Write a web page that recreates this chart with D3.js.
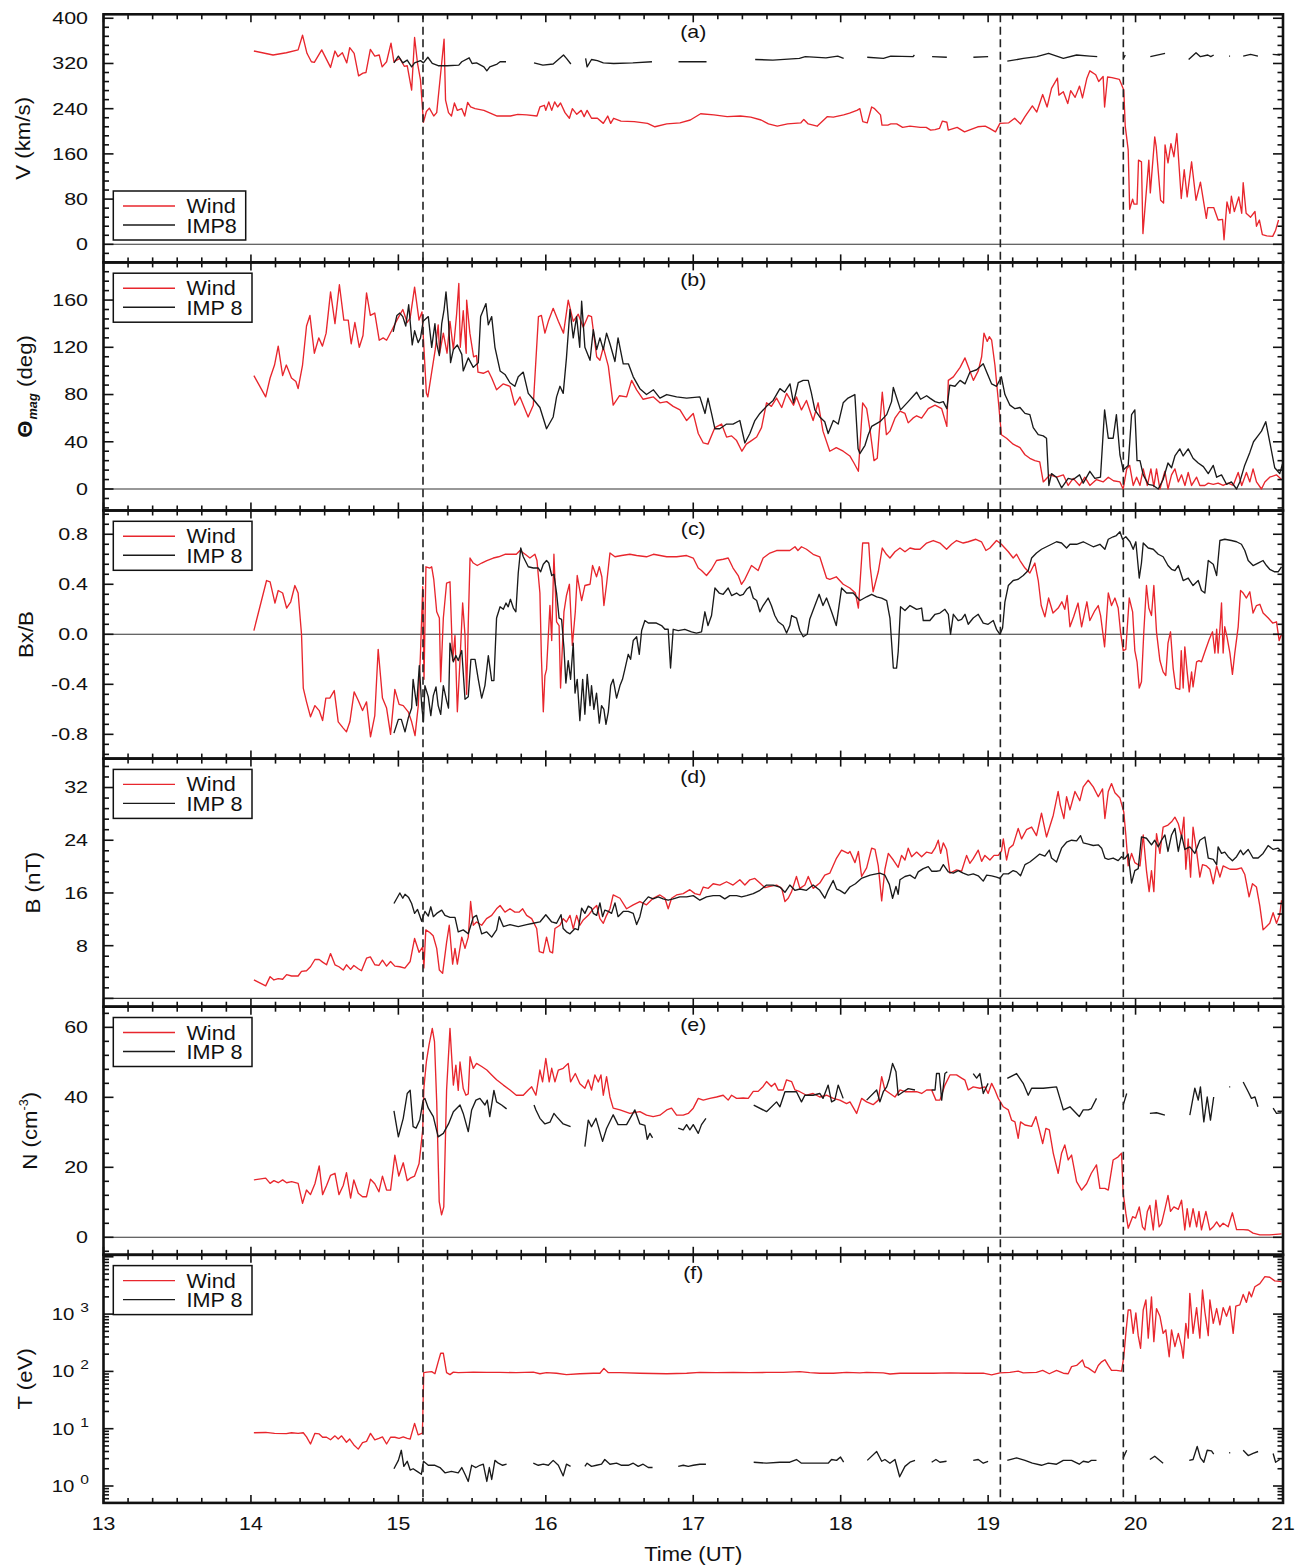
<!DOCTYPE html>
<html>
<head>
<meta charset="utf-8">
<script src="https://cdn.jsdelivr.net/npm/d3@7"></script>
<style>
  body { margin: 0; background: #fff; }
  svg { display: block; }
</style>
</head>
<body>
<svg id="chart" width="1305" height="1566"></svg>
<script>
// ---------------------------------------------------------------
// Solar-wind parameters at Wind and IMP 8, 13-21 UT.
// Each series is a list of [hour (UT), value]; null marks a data gap.
// ---------------------------------------------------------------

const hourTicks = [13, 14, 15, 16, 17, 18, 19, 20, 21];
const eventTimes = [15.167, 19.083, 19.917];

// (a) bulk speed, km/s
const windV = [
[14.02,342],[14.15,335],[14.24,339],[14.32,344],[14.35,370],[14.38,338],[14.41,323],[14.43,322],[14.48,344],[14.54,313],[14.57,342],[14.59,332],[14.62,339],[14.65,321],[14.67,348],[14.70,338],[14.73,298],[14.76,303],[14.78,304],[14.81,345],[14.84,333],[14.87,335],[14.89,314],[14.92,323],[14.95,356],[14.97,323],[15.01,329],[15.04,315],[15.06,316],[15.09,273],[15.11,366],[15.13,320],[15.15,291],[15.17,216],[15.19,235],[15.21,241],[15.24,227],[15.26,233],[15.28,285],[15.31,363],[15.32,255],[15.34,233],[15.36,227],[15.38,250],[15.40,237],[15.43,240],[15.45,227],[15.47,251],[15.49,243],[15.52,240],[15.58,237],[15.67,227],[15.76,227],[15.81,230],[15.87,229],[15.94,227],[15.96,243],[15.99,246],[16.00,237],[16.02,252],[16.04,237],[16.06,252],[16.08,243],[16.10,250],[16.13,233],[16.16,223],[16.18,240],[16.21,230],[16.24,237],[16.26,226],[16.28,237],[16.31,223],[16.35,223],[16.39,214],[16.42,227],[16.44,214],[16.46,223],[16.51,218],[16.60,217],[16.69,214],[16.74,208],[16.82,213],[16.91,215],[16.98,220],[17.05,231],[17.14,229],[17.23,226],[17.32,227],[17.39,225],[17.46,220],[17.51,213],[17.57,209],[17.64,213],[17.73,215],[17.75,221],[17.78,213],[17.84,209],[17.91,226],[17.95,225],[18.02,229],[18.06,232],[18.11,237],[18.13,240],[18.15,217],[18.18,215],[18.21,243],[18.23,240],[18.27,229],[18.28,211],[18.32,211],[18.34,213],[18.38,213],[18.42,207],[18.47,209],[18.54,207],[18.58,207],[18.61,202],[18.64,203],[18.67,205],[18.69,218],[18.72,216],[18.73,202],[18.79,207],[18.84,199],[18.88,203],[18.93,208],[18.98,209],[19.01,205],[19.05,199],[19.08,214],[19.14,215],[19.18,223],[19.22,213],[19.25,226],[19.30,245],[19.33,234],[19.37,265],[19.40,243],[19.43,276],[19.47,294],[19.48,264],[19.51,270],[19.54,249],[19.56,272],[19.59,260],[19.62,280],[19.64,259],[19.67,294],[19.69,307],[19.73,300],[19.75,288],[19.78,297],[19.79,243],[19.81,296],[19.84,295],[19.89,292],[19.92,273],[19.93,209],[19.95,167],[19.96,62],[19.98,80],[19.99,71],[20.01,71],[20.02,149],[20.04,146],[20.05,19],[20.09,149],[20.10,91],[20.13,190],[20.14,173],[20.17,78],[20.19,73],[20.20,176],[20.22,144],[20.24,178],[20.26,155],[20.28,196],[20.31,81],[20.33,132],[20.35,84],[20.38,146],[20.41,78],[20.44,110],[20.48,46],[20.49,65],[20.53,65],[20.56,43],[20.59,44],[20.60,8],[20.62,75],[20.64,55],[20.65,85],[20.67,58],[20.70,84],[20.72,55],[20.73,109],[20.75,55],[20.78,48],[20.81,58],[20.82,32],[20.84,43],[20.86,17],[20.89,15],[20.93,14],[20.95,25],[20.97,43]
];
const imp8V = [
[14.97,321],[15.00,333],[15.03,321],[15.06,326],[15.09,314],[15.11,321],[15.15,325],[15.17,321],[15.20,331],[15.23,320],[15.27,316],[15.33,316],[15.41,317],[15.43,323],[15.48,330],[15.50,320],[15.53,321],[15.58,314],[15.60,307],[15.62,314],[15.67,319],[15.69,323],[15.73,323],null,
[15.92,321],[15.98,317],[16.05,319],[16.12,335],[16.14,329],[16.17,319],null,
[16.27,329],[16.28,314],[16.31,327],[16.35,325],[16.39,321],[16.46,320],[16.59,321],[16.72,323],null,
[16.90,323],[17.09,323],null,
[17.42,327],[17.54,326],[17.72,329],[17.76,332],[17.90,330],[17.98,333],[18.02,329],null,
[18.18,331],[18.29,329],[18.34,333],[18.49,332],[18.50,335],null,
[18.62,332],[18.72,331],null,
[18.90,331],[19.00,332],null,
[19.13,324],[19.24,329],[19.33,332],[19.41,338],[19.51,329],[19.60,335],[19.69,333],[19.74,332],null,
[19.92,330],[19.93,335],null,
[20.10,332],[20.20,338],null,
[20.36,327],[20.41,339],[20.44,332],[20.49,335],[20.51,332],[20.53,335],null,
[20.634,333],[20.641,333],null,
[20.73,333],[20.78,336],[20.83,333],null,
[20.93,336],[20.98,335]
];

// (b) field angle, deg
const windTheta = [
[14.02,96],[14.10,78],[14.13,94],[14.16,105],[14.185,121],[14.215,96],[14.24,105],[14.275,94],[14.305,91],[14.32,85],[14.35,105],[14.377,138],[14.40,147],[14.43,115],[14.46,128],[14.485,121],[14.51,132],[14.54,167],[14.57,140],[14.60,173],[14.63,143],[14.66,143],[14.68,123],[14.705,141],[14.735,120],[14.76,130],[14.784,166],[14.81,147],[14.84,149],[14.87,126],[14.897,128],[14.92,126],[14.954,134],[14.99,143],[15.03,152],[15.06,141],[15.08,145],[15.11,171],[15.14,143],[15.16,150],[15.19,81],[15.20,78],[15.226,99],[15.25,118],[15.27,139],[15.28,115],[15.305,132],[15.33,115],[15.35,142],[15.373,118],[15.395,148],[15.41,174],[15.42,120],[15.44,151],[15.46,115],[15.463,160],[15.485,132],[15.51,112],[15.53,113],[15.54,99],[15.576,98],[15.61,100],[15.633,94],[15.666,84],[15.71,89],[15.757,87],[15.79,71],[15.825,78],[15.88,61],[15.915,71],[15.95,146],[15.97,147],[15.994,132],[16.017,142],[16.05,153],[16.085,142],[16.12,132],[16.152,160],[16.186,142],[16.22,148],[16.254,137],[16.288,147],[16.31,146],[16.345,112],[16.367,109],[16.39,120],[16.424,104],[16.457,71],[16.50,79],[16.548,78],[16.582,92],[16.616,84],[16.66,76],[16.73,78],[16.774,73],[16.82,74],[16.864,70],[16.91,67],[16.955,58],[17.0,64],[17.034,47],[17.068,39],[17.10,38],[17.147,52],[17.192,55],[17.226,44],[17.26,45],[17.294,41],[17.33,32],[17.36,38],[17.395,41],[17.43,44],[17.463,52],[17.497,73],[17.53,70],[17.565,77],[17.60,69],[17.633,81],[17.68,71],[17.70,78],[17.734,67],[17.768,75],[17.813,58],[17.847,73],[17.88,49],[17.926,32],[17.97,35],[18.017,32],[18.062,28],[18.09,22],[18.12,15],[18.149,73],[18.176,68],[18.20,49],[18.226,24],[18.248,26],[18.282,82],[18.31,46],[18.334,49],[18.368,60],[18.402,66],[18.436,64],[18.458,56],[18.49,60],[18.515,62],[18.549,60],[18.594,68],[18.64,71],[18.685,68],[18.72,53],[18.73,92],[18.764,95],[18.81,103],[18.843,111],[18.87,102],[18.90,92],[18.933,100],[18.956,112],[18.972,132],[18.994,125],[19.008,129],[19.024,126],[19.046,105],[19.069,75],[19.09,46],[19.125,43],[19.17,38],[19.216,35],[19.25,29],[19.283,26],[19.317,24],[19.35,23],[19.374,6],[19.42,12],[19.464,10],[19.51,12],[19.543,3],[19.577,9],[19.62,3],[19.656,10],[19.69,3],[19.735,8],[19.78,6],[19.815,10],[19.85,7],[19.894,6],[19.916,0],[19.94,17],[19.96,20],[19.984,3],[20.007,10],[20.03,3],[20.052,17],[20.08,3],[20.104,17],[20.124,2],[20.142,17],[20.165,0],[20.199,15],[20.22,0],[20.244,12],[20.267,17],[20.29,6],[20.312,12],[20.335,3],[20.357,14],[20.38,3],[20.414,10],[20.436,3],[20.47,3],[20.493,5],[20.527,4],[20.56,5],[20.594,3],[20.628,5],[20.662,3],[20.696,14],[20.72,3],[20.752,14],[20.775,6],[20.797,17],[20.82,6],[20.854,0],[20.877,6],[20.91,10],[20.955,12],[20.99,8]
];
const imp8Theta = [
[14.965,133],[14.99,147],[15.01,149],[15.03,146],[15.05,138],[15.07,156],[15.094,122],[15.11,134],[15.134,124],[15.15,128],[15.168,142],[15.203,146],[15.226,120],[15.248,140],[15.26,123],[15.278,113],[15.294,140],[15.31,152],[15.323,167],[15.34,142],[15.354,107],[15.373,118],[15.40,122],[15.43,114],[15.44,100],[15.474,111],[15.508,103],[15.542,107],[15.558,146],[15.594,157],[15.61,139],[15.633,146],[15.655,120],[15.69,100],[15.723,97],[15.757,90],[15.79,87],[15.813,95],[15.847,99],[15.881,81],[15.915,76],[15.96,69],[16.005,51],[16.05,61],[16.073,78],[16.096,87],[16.118,81],[16.14,111],[16.164,152],[16.186,128],[16.209,146],[16.23,120],[16.243,159],[16.265,120],[16.30,109],[16.322,135],[16.345,118],[16.367,128],[16.39,118],[16.412,132],[16.435,123],[16.469,108],[16.49,128],[16.525,106],[16.56,106],[16.593,95],[16.638,85],[16.683,80],[16.73,84],[16.774,77],[16.82,80],[16.887,78],[16.955,77],[17.045,78],[17.08,64],[17.10,77],[17.124,64],[17.147,51],[17.18,51],[17.226,55],[17.27,55],[17.316,58],[17.35,39],[17.384,47],[17.418,58],[17.452,64],[17.497,70],[17.542,75],[17.588,85],[17.62,82],[17.656,89],[17.68,73],[17.712,90],[17.746,92],[17.78,92],[17.80,82],[17.825,67],[17.858,61],[17.892,57],[17.915,47],[17.95,58],[17.983,55],[18.017,73],[18.05,77],[18.096,80],[18.118,34],[18.13,30],[18.165,37],[18.187,46],[18.21,53],[18.266,57],[18.312,63],[18.345,74],[18.357,86],[18.406,67],[18.458,74],[18.515,82],[18.542,76],[18.583,79],[18.605,77],[18.64,74],[18.669,73],[18.696,74],[18.72,68],[18.74,88],[18.775,87],[18.81,92],[18.843,89],[18.877,99],[18.922,101],[18.967,106],[18.99,99],[19.024,89],[19.057,87],[19.09,95],[19.114,80],[19.148,71],[19.182,68],[19.216,69],[19.25,64],[19.283,63],[19.306,52],[19.34,46],[19.374,45],[19.396,43],[19.412,3],[19.43,13],[19.464,10],[19.498,1],[19.543,9],[19.577,8],[19.62,12],[19.645,5],[19.69,15],[19.724,9],[19.762,10],[19.79,67],[19.815,43],[19.848,43],[19.87,63],[19.894,29],[19.916,16],[19.95,20],[19.973,63],[19.995,67],[20.01,24],[20.03,24],[20.052,12],[20.086,4],[20.12,3],[20.154,0],[20.187,8],[20.22,22],[20.244,18],[20.267,28],[20.30,34],[20.323,28],[20.357,34],[20.39,26],[20.425,22],[20.46,19],[20.493,13],[20.527,20],[20.55,10],[20.583,12],[20.617,4],[20.65,6],[20.685,0],[20.707,6],[20.74,20],[20.775,31],[20.80,40],[20.83,45],[20.854,49],[20.883,57],[20.91,40],[20.944,18],[20.978,13],[20.996,21]
];

// (c) Bx/B
const windBx = [
[14.02,0.03],[14.106,0.43],[14.13,0.42],[14.163,0.25],[14.185,0.35],[14.215,0.33],[14.242,0.21],[14.27,0.26],[14.298,0.39],[14.32,0.33],[14.343,0.0],[14.355,-0.43],[14.377,-0.54],[14.404,-0.66],[14.434,-0.57],[14.463,-0.61],[14.486,-0.69],[14.508,-0.51],[14.535,-0.51],[14.565,-0.45],[14.592,-0.70],[14.626,-0.75],[14.648,-0.78],[14.671,-0.70],[14.70,-0.46],[14.728,-0.53],[14.757,-0.61],[14.784,-0.54],[14.811,-0.82],[14.84,-0.65],[14.863,-0.12],[14.892,-0.51],[14.92,-0.59],[14.947,-0.80],[14.976,-0.44],[15.005,-0.56],[15.033,-0.57],[15.067,-0.62],[15.09,-0.70],[15.113,-0.81],[15.135,-0.57],[15.15,-0.15],[15.165,0.38],[15.174,-0.36],[15.187,0.54],[15.214,0.53],[15.226,0.54],[15.24,0.44],[15.26,0.18],[15.278,0.13],[15.287,-0.38],[15.305,0.13],[15.327,0.41],[15.35,0.42],[15.368,-0.21],[15.384,-0.01],[15.40,-0.62],[15.418,-0.21],[15.436,0.25],[15.452,-0.01],[15.463,-0.48],[15.474,0.08],[15.486,0.61],[15.508,0.57],[15.535,0.55],[15.565,0.57],[15.60,0.59],[15.644,0.61],[15.68,0.62],[15.723,0.64],[15.768,0.64],[15.80,0.64],[15.825,0.67],[15.86,0.64],[15.892,0.61],[15.926,0.64],[15.94,0.59],[15.96,0.33],[15.97,-0.18],[15.983,-0.62],[15.994,-0.33],[16.005,-0.28],[16.028,0.23],[16.04,-0.05],[16.055,0.64],[16.073,0.10],[16.09,0.07],[16.10,-0.43],[16.123,0.18],[16.14,0.31],[16.16,0.40],[16.18,-0.09],[16.20,0.18],[16.213,0.47],[16.243,0.27],[16.265,0.39],[16.30,0.40],[16.317,0.55],[16.344,0.46],[16.363,0.54],[16.38,0.46],[16.394,0.23],[16.412,0.40],[16.435,0.65],[16.469,0.62],[16.514,0.63],[16.57,0.64],[16.616,0.63],[16.683,0.62],[16.73,0.64],[16.82,0.62],[16.887,0.62],[16.955,0.63],[17.0,0.61],[17.034,0.53],[17.056,0.51],[17.09,0.47],[17.124,0.52],[17.158,0.59],[17.203,0.60],[17.237,0.61],[17.27,0.53],[17.305,0.47],[17.327,0.40],[17.35,0.44],[17.395,0.55],[17.44,0.51],[17.474,0.61],[17.52,0.65],[17.565,0.67],[17.61,0.67],[17.655,0.67],[17.69,0.70],[17.71,0.67],[17.734,0.70],[17.768,0.68],[17.813,0.64],[17.858,0.62],[17.904,0.45],[17.926,0.44],[17.97,0.46],[18.017,0.40],[18.062,0.37],[18.10,0.33],[18.12,0.21],[18.149,0.73],[18.19,0.73],[18.20,0.54],[18.22,0.34],[18.233,0.40],[18.255,0.50],[18.282,0.69],[18.31,0.64],[18.334,0.61],[18.368,0.66],[18.402,0.69],[18.436,0.66],[18.47,0.69],[18.504,0.68],[18.538,0.68],[18.583,0.73],[18.628,0.75],[18.673,0.73],[18.718,0.68],[18.752,0.72],[18.786,0.75],[18.831,0.73],[18.865,0.74],[18.917,0.76],[18.955,0.74],[18.985,0.67],[19.012,0.69],[19.057,0.75],[19.09,0.72],[19.137,0.66],[19.17,0.61],[19.193,0.64],[19.216,0.59],[19.25,0.53],[19.283,0.49],[19.317,0.57],[19.34,0.43],[19.36,0.23],[19.385,0.14],[19.41,0.29],[19.44,0.17],[19.475,0.21],[19.50,0.26],[19.52,0.20],[19.536,0.31],[19.555,0.06],[19.58,0.14],[19.61,0.25],[19.634,0.06],[19.67,0.26],[19.69,0.11],[19.724,0.19],[19.747,0.23],[19.763,0.15],[19.79,-0.10],[19.815,0.33],[19.837,0.23],[19.86,0.29],[19.882,0.21],[19.898,0.02],[19.916,-0.13],[19.934,-0.12],[19.957,0.29],[19.98,0.18],[19.995,-0.13],[20.01,-0.22],[20.025,-0.43],[20.04,-0.38],[20.056,0.02],[20.074,0.39],[20.09,0.21],[20.108,0.15],[20.124,0.39],[20.142,0.02],[20.165,-0.21],[20.187,-0.30],[20.205,-0.33],[20.22,-0.07],[20.237,0.02],[20.255,-0.27],[20.273,-0.43],[20.30,-0.44],[20.31,-0.13],[20.323,-0.43],[20.334,-0.10],[20.35,-0.30],[20.364,-0.46],[20.38,-0.30],[20.39,-0.42],[20.414,-0.22],[20.43,-0.21],[20.447,-0.22],[20.47,-0.14],[20.50,-0.04],[20.522,0.02],[20.538,-0.15],[20.55,0.04],[20.56,-0.15],[20.572,0.04],[20.583,0.25],[20.594,-0.15],[20.605,0.06],[20.62,-0.02],[20.64,-0.15],[20.657,-0.32],[20.673,-0.15],[20.696,0.06],[20.712,0.35],[20.73,0.33],[20.752,0.29],[20.775,0.34],[20.797,0.17],[20.82,0.23],[20.843,0.24],[20.865,0.17],[20.90,0.13],[20.93,0.09],[20.956,0.10],[20.974,-0.05],[20.99,0.0]
];
const imp8Bx = [
[14.97,-0.79],[15.0,-0.68],[15.02,-0.68],[15.045,-0.78],[15.067,-0.67],[15.09,-0.59],[15.10,-0.36],[15.124,-0.57],[15.142,-0.25],[15.158,-0.57],[15.17,-0.70],[15.18,-0.41],[15.203,-0.50],[15.22,-0.65],[15.237,-0.49],[15.255,-0.42],[15.27,-0.57],[15.287,-0.64],[15.305,-0.41],[15.327,-0.53],[15.34,-0.59],[15.35,-0.07],[15.373,-0.22],[15.39,-0.17],[15.406,-0.21],[15.43,-0.13],[15.452,-0.52],[15.474,-0.50],[15.492,-0.20],[15.52,-0.20],[15.542,-0.36],[15.565,-0.51],[15.587,-0.41],[15.61,-0.17],[15.633,-0.37],[15.648,-0.37],[15.666,0.13],[15.69,0.22],[15.712,0.20],[15.73,0.25],[15.745,0.22],[15.76,0.28],[15.78,0.21],[15.797,0.18],[15.813,0.49],[15.83,0.69],[15.847,0.62],[15.881,0.54],[15.915,0.53],[15.949,0.53],[15.965,0.50],[15.983,0.56],[16.005,0.59],[16.02,0.57],[16.04,0.47],[16.055,0.48],[16.073,0.33],[16.09,0.13],[16.107,0.12],[16.123,-0.11],[16.136,-0.39],[16.152,-0.21],[16.168,-0.36],[16.186,-0.07],[16.198,-0.47],[16.213,-0.36],[16.231,-0.69],[16.25,-0.36],[16.265,-0.64],[16.281,-0.32],[16.30,-0.57],[16.31,-0.41],[16.326,-0.60],[16.344,-0.47],[16.363,-0.71],[16.378,-0.57],[16.394,-0.60],[16.408,-0.72],[16.424,-0.62],[16.44,-0.41],[16.457,-0.36],[16.48,-0.51],[16.503,-0.41],[16.52,-0.36],[16.536,-0.28],[16.559,-0.16],[16.575,-0.20],[16.593,-0.05],[16.616,-0.02],[16.634,-0.16],[16.65,0.03],[16.672,0.11],[16.695,0.09],[16.717,0.09],[16.75,0.09],[16.785,0.07],[16.808,0.04],[16.83,0.04],[16.846,-0.27],[16.864,0.04],[16.898,0.03],[16.943,0.04],[16.988,0.02],[17.022,0.01],[17.056,0.02],[17.079,0.18],[17.10,0.07],[17.124,0.15],[17.147,0.37],[17.176,0.33],[17.203,0.32],[17.237,0.37],[17.26,0.31],[17.294,0.33],[17.316,0.31],[17.339,0.32],[17.362,0.36],[17.384,0.38],[17.407,0.29],[17.43,0.27],[17.452,0.18],[17.474,0.23],[17.508,0.29],[17.53,0.23],[17.553,0.15],[17.576,0.10],[17.61,0.07],[17.633,0.01],[17.655,0.07],[17.667,0.15],[17.70,0.13],[17.723,0.03],[17.746,-0.02],[17.773,0.0],[17.79,0.12],[17.825,0.23],[17.854,0.32],[17.88,0.23],[17.904,0.29],[17.938,0.18],[17.97,0.07],[18.006,0.37],[18.04,0.33],[18.085,0.33],[18.131,0.27],[18.176,0.30],[18.21,0.32],[18.244,0.30],[18.278,0.29],[18.312,0.27],[18.334,0.13],[18.357,-0.27],[18.379,-0.27],[18.39,-0.14],[18.406,0.22],[18.436,0.19],[18.47,0.23],[18.515,0.20],[18.549,0.21],[18.56,0.11],[18.605,0.11],[18.64,0.16],[18.673,0.17],[18.707,0.20],[18.73,0.16],[18.745,0.0],[18.764,0.16],[18.797,0.11],[18.82,0.12],[18.843,0.16],[18.865,0.08],[18.899,0.13],[18.933,0.16],[18.967,0.09],[19.0,0.08],[19.035,0.11],[19.057,0.04],[19.08,0.0],[19.098,0.05],[19.114,0.26],[19.137,0.39],[19.17,0.43],[19.204,0.44],[19.238,0.47],[19.272,0.51],[19.295,0.61],[19.328,0.65],[19.362,0.68],[19.396,0.70],[19.43,0.72],[19.464,0.74],[19.498,0.73],[19.532,0.69],[19.555,0.72],[19.60,0.72],[19.645,0.74],[19.679,0.72],[19.713,0.70],[19.758,0.72],[19.792,0.68],[19.815,0.76],[19.848,0.78],[19.87,0.79],[19.894,0.82],[19.912,0.76],[19.934,0.78],[19.962,0.74],[19.984,0.68],[20.002,0.74],[20.025,0.45],[20.04,0.57],[20.052,0.73],[20.086,0.69],[20.12,0.68],[20.154,0.64],[20.187,0.62],[20.22,0.55],[20.244,0.52],[20.267,0.51],[20.29,0.55],[20.323,0.43],[20.357,0.45],[20.39,0.39],[20.425,0.43],[20.447,0.35],[20.47,0.33],[20.493,0.59],[20.527,0.56],[20.55,0.47],[20.572,0.75],[20.605,0.76],[20.65,0.75],[20.685,0.74],[20.718,0.72],[20.741,0.67],[20.764,0.59],[20.797,0.55],[20.831,0.57],[20.865,0.59],[20.888,0.55],[20.91,0.52],[20.944,0.50],[20.967,0.50],[20.99,0.54]
];

// (d) field magnitude, nT
const windB = [
[14.02,2.8],[14.10,1.9],[14.13,3.3],[14.156,2.8],[14.185,3.0],[14.215,2.9],[14.242,3.6],[14.276,3.4],[14.32,3.4],[14.343,4.1],[14.377,4.2],[14.404,4.8],[14.434,5.9],[14.463,5.9],[14.486,5.5],[14.513,5.1],[14.54,6.8],[14.57,5.1],[14.597,4.8],[14.626,4.3],[14.648,5.1],[14.676,4.4],[14.698,5.0],[14.728,4.5],[14.75,4.2],[14.784,6.1],[14.81,6.3],[14.84,5.1],[14.868,5.0],[14.892,5.8],[14.92,4.9],[14.947,5.6],[14.976,4.9],[15.01,4.8],[15.044,4.6],[15.08,5.6],[15.11,9.1],[15.14,7.0],[15.165,7.8],[15.173,4.6],[15.186,10.4],[15.213,10.0],[15.236,9.5],[15.26,7.6],[15.278,4.3],[15.30,3.8],[15.327,8.5],[15.345,11.1],[15.368,5.2],[15.384,7.6],[15.40,5.2],[15.43,9.3],[15.452,7.6],[15.474,9.3],[15.49,14.7],[15.508,11.1],[15.53,11.6],[15.565,11.1],[15.598,12.1],[15.633,12.6],[15.666,13.6],[15.69,14.1],[15.723,13.1],[15.757,13.6],[15.79,13.1],[15.82,13.1],[15.843,13.6],[15.87,12.6],[15.904,12.1],[15.938,10.6],[15.956,7.1],[15.983,6.9],[16.005,9.3],[16.028,7.1],[16.046,6.9],[16.062,10.6],[16.096,11.1],[16.118,12.1],[16.14,11.6],[16.164,12.6],[16.186,10.6],[16.209,12.6],[16.231,11.1],[16.254,11.9],[16.288,12.6],[16.322,13.6],[16.345,14.1],[16.367,12.1],[16.39,11.4],[16.412,12.6],[16.435,13.6],[16.457,15.7],[16.503,15.2],[16.548,13.6],[16.593,14.2],[16.638,14.7],[16.683,14.2],[16.728,15.2],[16.774,15.7],[16.808,15.2],[16.83,13.6],[16.853,15.2],[16.887,15.7],[16.932,15.9],[16.977,16.5],[17.011,15.9],[17.045,15.7],[17.068,16.9],[17.102,16.7],[17.135,17.4],[17.18,17.2],[17.226,17.7],[17.27,17.2],[17.316,18.0],[17.35,17.2],[17.384,18.0],[17.418,18.2],[17.452,17.5],[17.486,16.8],[17.52,17.0],[17.565,17.2],[17.60,16.7],[17.622,14.7],[17.644,15.2],[17.667,16.2],[17.70,18.5],[17.723,16.7],[17.757,17.2],[17.78,18.5],[17.813,16.7],[17.858,17.5],[17.892,18.7],[17.926,19.0],[17.972,21.3],[18.006,22.5],[18.05,22.0],[18.063,22.3],[18.097,20.6],[18.12,22.3],[18.142,18.5],[18.176,19.8],[18.21,22.8],[18.233,22.6],[18.255,20.1],[18.278,14.8],[18.30,19.6],[18.323,22.0],[18.357,21.0],[18.39,19.9],[18.413,21.7],[18.436,21.0],[18.458,22.8],[18.481,21.5],[18.515,22.2],[18.549,21.5],[18.583,22.2],[18.617,22.0],[18.64,22.8],[18.662,24.0],[18.678,22.0],[18.696,23.6],[18.718,22.6],[18.741,19.0],[18.786,19.5],[18.82,19.3],[18.854,21.7],[18.876,20.5],[18.899,21.2],[18.933,22.5],[18.956,20.8],[18.978,21.7],[19.012,21.0],[19.04,21.7],[19.069,21.7],[19.091,22.4],[19.103,24.2],[19.125,21.0],[19.143,22.8],[19.17,23.3],[19.204,25.8],[19.227,24.2],[19.26,25.6],[19.295,26.0],[19.328,24.7],[19.362,28.1],[19.396,24.5],[19.442,27.8],[19.475,31.4],[19.49,29.3],[19.514,27.3],[19.532,30.6],[19.555,28.6],[19.589,31.4],[19.622,30.0],[19.645,32.1],[19.679,33.1],[19.713,32.1],[19.747,30.6],[19.776,31.8],[19.792,27.3],[19.815,31.4],[19.837,32.6],[19.86,31.2],[19.894,30.4],[19.92,28.3],[19.934,24.8],[19.95,20.1],[19.973,22.0],[19.995,20.6],[20.03,20.1],[20.052,24.8],[20.074,19.4],[20.092,16.2],[20.108,19.4],[20.124,16.2],[20.142,25.0],[20.165,22.0],[20.187,26.0],[20.22,26.3],[20.244,26.8],[20.267,27.5],[20.29,26.5],[20.312,24.5],[20.328,27.5],[20.341,19.6],[20.357,24.2],[20.373,18.4],[20.39,26.0],[20.414,22.3],[20.436,18.4],[20.454,20.3],[20.481,20.1],[20.504,19.6],[20.527,17.4],[20.55,20.1],[20.572,18.4],[20.594,20.1],[20.64,19.6],[20.685,19.6],[20.718,19.8],[20.741,18.8],[20.77,15.4],[20.793,17.4],[20.82,16.9],[20.843,14.0],[20.865,10.4],[20.888,10.9],[20.91,11.4],[20.933,13.0],[20.956,11.4],[20.978,12.7],[20.99,14.9]
];
const imp8B = [
[14.97,14.4],[15.01,16.0],[15.03,15.2],[15.045,15.8],[15.07,15.3],[15.09,14.4],[15.11,12.9],[15.13,13.5],[15.158,11.7],[15.18,13.2],[15.203,12.5],[15.22,13.9],[15.237,12.4],[15.26,12.9],[15.294,13.4],[15.316,12.6],[15.35,12.3],[15.384,12.3],[15.406,10.1],[15.44,10.4],[15.474,9.8],[15.508,12.3],[15.53,12.6],[15.565,9.8],[15.598,10.1],[15.633,9.3],[15.666,10.4],[15.684,12.4],[15.712,10.9],[15.757,11.2],[15.813,10.9],[15.87,11.2],[15.915,11.4],[15.96,11.6],[16.0,12.7],[16.04,11.6],[16.073,11.4],[16.103,12.7],[16.118,10.6],[16.14,10.1],[16.164,9.8],[16.198,10.6],[16.22,10.4],[16.243,13.7],[16.265,12.9],[16.288,14.0],[16.31,13.7],[16.322,12.9],[16.345,12.6],[16.367,14.5],[16.385,12.4],[16.40,13.4],[16.424,13.2],[16.446,12.9],[16.469,14.5],[16.49,12.4],[16.525,13.2],[16.559,13.2],[16.593,12.9],[16.616,11.2],[16.638,12.4],[16.66,14.5],[16.695,15.4],[16.728,15.1],[16.762,15.4],[16.796,15.1],[16.83,14.9],[16.864,15.1],[16.909,15.4],[16.955,15.4],[17.0,15.6],[17.045,14.9],[17.09,15.4],[17.135,15.6],[17.18,15.6],[17.214,15.1],[17.248,15.6],[17.294,15.6],[17.328,15.4],[17.362,15.6],[17.407,15.9],[17.452,16.4],[17.497,17.2],[17.542,17.2],[17.587,16.9],[17.622,16.1],[17.655,17.2],[17.689,16.4],[17.723,16.6],[17.768,16.4],[17.813,17.2],[17.858,16.4],[17.892,15.2],[17.915,16.4],[17.949,17.9],[17.972,16.6],[17.994,16.4],[18.028,15.9],[18.062,16.9],[18.10,17.4],[18.14,18.2],[18.20,18.7],[18.266,19.0],[18.30,18.7],[18.33,17.3],[18.352,15.2],[18.375,17.0],[18.39,15.8],[18.402,18.0],[18.436,18.5],[18.47,18.7],[18.504,18.2],[18.526,19.2],[18.56,19.7],[18.594,20.0],[18.617,19.3],[18.65,19.3],[18.673,19.4],[18.696,20.3],[18.73,19.2],[18.764,19.0],[18.797,19.4],[18.831,19.0],[18.865,18.7],[18.899,18.9],[18.933,18.6],[18.967,17.8],[18.99,18.7],[19.024,18.6],[19.057,18.4],[19.08,18.2],[19.103,18.9],[19.137,18.9],[19.17,19.4],[19.193,19.2],[19.22,18.6],[19.25,20.3],[19.283,20.7],[19.317,21.3],[19.35,21.9],[19.385,21.6],[19.415,22.5],[19.43,21.3],[19.464,20.7],[19.498,22.8],[19.532,23.7],[19.566,24.0],[19.60,23.9],[19.627,24.7],[19.645,23.6],[19.679,23.4],[19.713,23.2],[19.747,23.3],[19.77,22.8],[19.792,21.3],[19.815,21.1],[19.848,21.3],[19.882,20.9],[19.905,21.5],[19.928,21.2],[19.95,21.9],[19.973,17.5],[19.995,19.4],[20.018,19.7],[20.04,24.5],[20.074,24.3],[20.108,23.3],[20.13,24.0],[20.154,23.0],[20.176,24.0],[20.199,24.8],[20.22,22.3],[20.244,24.8],[20.267,25.8],[20.29,22.3],[20.312,24.8],[20.334,22.6],[20.368,23.0],[20.402,22.0],[20.436,24.0],[20.47,24.5],[20.493,21.3],[20.527,21.1],[20.55,20.3],[20.56,23.0],[20.583,22.0],[20.605,22.2],[20.628,21.5],[20.657,20.9],[20.685,21.5],[20.712,22.5],[20.73,21.8],[20.764,22.6],[20.797,21.3],[20.831,21.3],[20.865,22.0],[20.899,23.2],[20.933,22.6],[20.967,22.8],[20.99,22.3]
];

// (e) density, cm^-3
const windN = [
[14.02,16.4],[14.10,16.9],[14.13,15.4],[14.156,16.2],[14.185,15.6],[14.215,16.4],[14.242,15.6],[14.276,15.9],[14.32,15.4],[14.35,9.7],[14.377,13.5],[14.404,12.2],[14.434,15.3],[14.463,20.4],[14.486,12.2],[14.513,14.8],[14.54,17.7],[14.57,18.3],[14.597,12.2],[14.626,14.8],[14.648,18.5],[14.676,11.2],[14.698,16.4],[14.728,12.6],[14.757,11.6],[14.784,11.6],[14.811,16.6],[14.84,15.3],[14.868,13.0],[14.892,17.5],[14.92,13.5],[14.947,13.5],[14.976,23.5],[15.003,17.5],[15.033,21.3],[15.06,16.2],[15.08,16.9],[15.11,17.5],[15.14,21.0],[15.165,30.7],[15.173,42.6],[15.19,50.2],[15.208,55.0],[15.23,59.7],[15.245,55.9],[15.26,38.7],[15.277,10.2],[15.293,6.4],[15.308,8.7],[15.327,42.1],[15.35,59.7],[15.373,43.5],[15.39,49.2],[15.406,42.0],[15.418,50.1],[15.44,42.5],[15.458,40.6],[15.474,41.0],[15.486,51.6],[15.508,48.3],[15.53,49.7],[15.565,48.8],[15.60,47.8],[15.633,46.4],[15.666,45.0],[15.712,43.5],[15.757,42.1],[15.80,40.6],[15.847,40.6],[15.881,42.1],[15.904,43.0],[15.933,40.6],[15.96,47.8],[15.978,44.4],[16.0,51.1],[16.023,44.4],[16.04,48.3],[16.062,44.4],[16.085,47.8],[16.118,48.3],[16.152,49.7],[16.168,44.4],[16.20,46.8],[16.231,43.9],[16.265,42.6],[16.288,45.0],[16.31,42.1],[16.333,46.4],[16.356,44.4],[16.374,46.4],[16.39,40.6],[16.412,45.9],[16.435,40.1],[16.457,36.9],[16.503,36.4],[16.57,35.4],[16.638,35.9],[16.683,34.9],[16.728,34.5],[16.774,34.9],[16.82,36.4],[16.853,36.9],[16.887,34.9],[16.932,34.9],[16.966,35.4],[17.0,36.9],[17.034,39.7],[17.068,39.2],[17.113,39.7],[17.158,40.1],[17.203,40.6],[17.237,39.2],[17.26,40.6],[17.294,39.7],[17.339,39.8],[17.373,39.7],[17.407,41.7],[17.44,41.7],[17.474,43.1],[17.497,44.5],[17.53,43.1],[17.554,44.0],[17.576,42.1],[17.61,42.1],[17.633,45.0],[17.667,44.5],[17.69,42.1],[17.723,41.6],[17.768,40.6],[17.813,41.1],[17.858,40.1],[17.904,40.6],[17.95,39.7],[17.994,39.2],[18.04,38.2],[18.063,38.7],[18.108,35.4],[18.142,39.7],[18.176,38.7],[18.22,37.9],[18.255,39.2],[18.278,45.9],[18.30,42.1],[18.334,41.1],[18.368,40.1],[18.402,42.1],[18.436,41.6],[18.47,41.6],[18.515,41.6],[18.549,41.1],[18.583,42.1],[18.617,42.1],[18.646,39.2],[18.673,39.2],[18.707,43.5],[18.741,46.4],[18.786,46.4],[18.82,45.5],[18.843,44.9],[18.865,42.1],[18.899,43.0],[18.944,42.6],[18.978,43.0],[19.0,41.1],[19.024,44.0],[19.046,42.1],[19.069,39.7],[19.103,37.3],[19.137,36.4],[19.159,33.5],[19.182,33.0],[19.204,28.3],[19.22,33.0],[19.25,32.1],[19.295,31.7],[19.324,34.5],[19.347,30.7],[19.37,26.8],[19.392,31.1],[19.415,30.7],[19.442,24.0],[19.475,18.3],[19.498,24.0],[19.52,26.4],[19.543,22.1],[19.566,23.5],[19.60,15.9],[19.634,13.5],[19.668,15.3],[19.70,18.3],[19.735,20.7],[19.758,14.0],[19.792,14.0],[19.815,13.5],[19.848,22.1],[19.882,23.0],[19.905,24.0],[19.916,12.6],[19.934,6.9],[19.95,2.6],[19.98,5.9],[20.0,5.5],[20.025,8.7],[20.047,3.0],[20.063,2.1],[20.08,7.4],[20.097,9.1],[20.12,2.1],[20.138,10.6],[20.16,3.0],[20.176,3.9],[20.20,8.2],[20.22,12.0],[20.237,7.4],[20.26,8.7],[20.29,8.0],[20.312,10.6],[20.334,2.1],[20.35,8.2],[20.368,3.0],[20.39,8.2],[20.414,3.0],[20.43,7.4],[20.447,2.1],[20.477,7.4],[20.504,2.1],[20.527,3.0],[20.55,4.4],[20.572,3.0],[20.594,4.0],[20.628,3.0],[20.657,7.0],[20.685,2.2],[20.73,2.2],[20.764,2.1],[20.797,1.2],[20.843,0.7],[20.91,0.7],[20.99,1.0]
];
const imp8N = [
[14.97,36.1],[15.0,28.7],[15.033,34.0],[15.06,41.1],[15.08,42.0],[15.10,31.6],[15.12,31.2],[15.145,33.5],[15.168,39.2],[15.18,39.7],[15.203,36.9],[15.237,34.5],[15.27,28.7],[15.305,29.7],[15.34,32.4],[15.373,35.9],[15.418,37.8],[15.44,35.4],[15.474,30.2],[15.497,36.4],[15.526,39.2],[15.553,39.7],[15.587,37.8],[15.603,39.2],[15.62,34.5],[15.648,42.0],[15.666,38.7],[15.70,37.8],[15.734,36.7],null,
[15.92,37.8],[15.933,36.4],[15.96,34.0],[15.994,32.4],[16.028,32.9],[16.055,35.4],[16.073,34.5],[16.118,32.4],[16.168,31.6],null,
[16.265,25.9],[16.288,33.5],[16.31,31.6],[16.34,34.0],[16.385,27.4],[16.412,31.1],[16.457,35.0],[16.49,32.2],[16.548,32.2],[16.604,36.4],[16.638,32.4],[16.672,32.0],[16.688,28.0],[16.706,29.7],[16.724,28.4],null,
[16.898,31.2],[16.932,30.7],[16.955,32.2],[16.977,30.7],[17.0,32.2],[17.034,29.7],[17.056,32.2],[17.086,34.0],null,
[17.41,37.8],[17.497,35.9],[17.565,38.7],[17.588,37.3],[17.622,41.6],[17.667,41.6],[17.70,41.6],[17.734,38.7],[17.757,40.6],[17.813,40.6],[17.858,41.1],[17.88,39.7],[17.915,43.5],[17.938,38.7],[17.96,39.2],[17.983,43.5],[18.017,39.7],null,
[18.176,39.2],[18.244,42.1],[18.266,38.7],[18.289,41.6],[18.312,43.0],[18.33,45.4],[18.352,49.7],[18.375,47.3],[18.39,40.6],[18.425,41.6],[18.458,42.5],[18.504,42.1],null,
[18.617,42.1],[18.64,42.1],[18.65,46.8],[18.669,46.8],[18.685,39.2],[18.707,46.8],[18.723,47.3],null,
[18.899,46.8],[18.922,45.5],[18.944,46.8],[18.967,41.1],[19.0,44.0],null,
[19.13,45.4],[19.193,46.8],[19.238,44.0],[19.272,40.6],[19.295,42.6],[19.374,42.6],[19.464,43.0],[19.51,36.4],[19.555,37.3],[19.618,34.5],[19.645,36.4],[19.68,36.4],[19.70,36.8],[19.735,39.7],null,
[19.916,37.8],[19.93,39.7],[19.94,41.1],null,
[20.097,35.4],[20.142,35.6],[20.199,34.9],null,
[20.368,34.9],[20.402,42.6],[20.425,39.2],[20.44,43.0],[20.463,33.0],[20.486,40.1],[20.508,33.5],[20.53,40.1],null,
[20.635,43.0],[20.642,43.0],null,
[20.73,44.4],[20.764,41.6],[20.786,39.7],[20.81,40.1],[20.83,37.3],null,
[20.933,36.9],[20.956,35.4],[20.99,35.6]
];

// (f) temperature, eV
const windT = [
[14.02,8.5],[14.10,8.6],[14.16,8.3],[14.24,8.2],[14.275,8.5],[14.32,8.3],[14.355,8.5],[14.377,7.2],[14.404,5.4],[14.434,8.3],[14.463,8.1],[14.486,7.1],[14.513,7.1],[14.54,6.4],[14.57,7.5],[14.592,6.6],[14.615,7.5],[14.648,5.8],[14.67,6.6],[14.698,5.2],[14.728,4.4],[14.757,5.7],[14.784,6.0],[14.811,8.3],[14.84,6.4],[14.868,6.8],[14.892,7.2],[14.92,5.4],[14.947,7.1],[14.976,7.1],[15.005,6.8],[15.033,7.2],[15.06,6.8],[15.08,6.6],[15.11,12.4],[15.134,7.8],[15.163,8.4],[15.172,95],[15.194,97],[15.226,99],[15.248,91],[15.27,147],[15.287,207],[15.305,207],[15.327,95],[15.35,88],[15.373,97],[15.406,95],[15.463,96],[15.508,97],[15.60,96],[15.69,96],[15.80,95],[15.915,97],[15.96,91],[16.005,95],[16.073,93],[16.14,88],[16.231,91],[16.322,93],[16.367,93],[16.394,113],[16.424,95],[16.503,95],[16.638,93],[16.82,91],[16.955,93],[17.045,96],[17.158,95],[17.27,96],[17.384,95],[17.497,96],[17.61,96],[17.723,99],[17.79,95],[17.858,93],[17.95,93],[18.04,96],[18.13,94],[18.176,96],[18.289,94],[18.334,90],[18.402,93],[18.515,93],[18.628,93],[18.741,94],[18.854,93],[18.967,93],[19.024,87],[19.08,94],[19.148,96],[19.204,101],[19.238,94],[19.328,96],[19.37,104],[19.415,91],[19.464,104],[19.51,93],[19.543,91],[19.566,121],[19.60,127],[19.64,158],[19.656,121],[19.68,114],[19.724,95],[19.747,127],[19.77,147],[19.792,160],[19.815,127],[19.837,104],[19.87,104],[19.905,101],[19.92,180],[19.934,460],[19.95,1180],[19.966,1180],[19.984,460],[20.002,1050],[20.018,420],[20.034,253],[20.052,1180],[20.07,1770],[20.086,380],[20.108,2000],[20.124,330],[20.142,1250],[20.165,920],[20.187,460],[20.205,530],[20.228,180],[20.244,530],[20.267,270],[20.29,460],[20.312,270],[20.323,170],[20.341,690],[20.357,380],[20.368,2300],[20.39,460],[20.414,1300],[20.436,380],[20.454,2630],[20.47,1100],[20.493,420],[20.504,1770],[20.527,690],[20.55,1250],[20.572,650],[20.594,1300],[20.617,920],[20.64,1380],[20.662,460],[20.68,1380],[20.707,1450],[20.73,2200],[20.752,1600],[20.77,2450],[20.786,2000],[20.809,3000],[20.843,3400],[20.877,4500],[20.91,4400],[20.944,3800],[20.99,3700]
];
const imp8T = [
[14.97,2.0],[15.0,2.8],[15.02,4.2],[15.037,2.2],[15.06,2.7],[15.08,1.9],[15.10,2.0],[15.127,1.8],[15.156,1.6],[15.17,2.7],[15.203,2.3],[15.248,2.3],[15.282,2.1],[15.316,1.7],[15.36,1.8],[15.406,1.7],[15.43,2.1],[15.452,1.6],[15.474,1.2],[15.497,2.3],[15.526,2.1],[15.553,2.3],[15.576,2.4],[15.60,1.2],[15.617,2.1],[15.633,1.3],[15.655,2.8],[15.678,2.5],[15.707,2.3],[15.734,2.4],null,
[15.915,2.5],[15.949,2.3],[15.983,2.4],[16.017,2.3],[16.05,2.8],[16.085,2.3],[16.118,1.5],[16.14,2.4],[16.168,2.2],null,
[16.265,2.2],[16.28,2.5],[16.31,2.2],[16.344,2.3],[16.378,2.4],[16.40,2.9],[16.435,2.4],[16.48,2.5],[16.514,2.3],[16.559,2.3],[16.593,2.5],[16.627,2.2],[16.66,2.4],[16.695,2.1],[16.724,2.1],null,
[16.898,2.2],[16.932,2.3],[16.966,2.2],[17.0,2.3],[17.045,2.4],[17.086,2.4],null,
[17.41,2.6],[17.497,2.5],[17.588,2.6],[17.655,2.6],[17.70,2.9],[17.734,2.5],[17.813,2.5],[17.915,2.5],[17.938,2.9],[17.972,2.8],[17.999,3.2],[18.02,2.6],null,
[18.18,2.8],[18.244,4.0],[18.278,2.7],[18.30,2.9],[18.334,2.5],[18.368,2.9],[18.40,1.45],[18.436,2.2],[18.47,2.6],[18.504,2.8],null,
[18.617,2.6],[18.646,2.9],[18.673,2.6],[18.718,2.7],null,
[18.899,2.8],[18.933,2.9],[18.967,2.5],[19.0,2.7],null,
[19.13,2.8],[19.193,3.1],[19.25,2.8],[19.30,2.5],[19.362,2.3],[19.408,2.5],[19.464,2.4],[19.51,2.8],[19.566,2.8],[19.618,2.4],[19.645,2.7],[19.68,2.6],[19.70,2.8],[19.735,2.8],null,
[19.916,3.1],[19.94,4.2],null,
[20.097,2.9],[20.13,3.3],[20.187,2.5],null,
[20.364,2.8],[20.39,2.9],[20.418,4.9],[20.44,3.1],[20.463,2.6],[20.486,4.2],[20.515,4.1],[20.53,3.6],null,
[20.635,3.8],[20.642,3.8],null,
[20.73,4.2],[20.764,3.4],[20.797,3.7],[20.831,4.0],null,
[20.933,3.7],[20.95,2.6],[20.978,2.9]
];

// Tick values per panel
const vTicks = [0, 80, 160, 240, 320, 400];
const thetaTicks = [0, 40, 80, 120, 160];
const bxTicks = [-0.8, -0.4, 0.0, 0.4, 0.8];
const bTicks = [8, 16, 24, 32];
const nTicks = [0, 20, 40, 60];
const tTicks = [1, 10, 100, 1000];

// ---------------------------------------------------------------
// Layout and styles
// ---------------------------------------------------------------
const FONT = '"Liberation Sans", Arial, Helvetica, sans-serif';
const RED = '#e8262d';
const BLACK = '#1a1a1a';
const plotLeft = 103.5, plotRight = 1283;
const panelTop0 = 14.3, panelH = 248.1;

const svg = d3.select('#chart');
svg.append('rect').attr('width', 1305).attr('height', 1566).attr('fill', '#fff');

const x = d3.scaleLinear().domain([13, 21]).range([plotLeft, plotRight]);

function addText(parent, px, py, opt) {
  const tr = `translate(${px},${py})` + (opt.rotate ? ` rotate(${opt.rotate})` : '') +
             ` scale(${opt.sx == null ? 1.2 : opt.sx},1)`;
  const t = parent.append('text')
    .attr('transform', tr)
    .attr('text-anchor', opt.anchor || 'middle')
    .attr('font-family', FONT)
    .attr('font-size', opt.size || 17)
    .attr('fill', '#111');
  if (opt.dy) t.attr('dy', opt.dy);
  if (opt.weight) t.attr('font-weight', opt.weight);
  return t;
}

// one-decimal labels with a plain hyphen for negatives
const fmtOneDecimal = v => v.toFixed(1);

const panels = [
  { tag: '(a)', wind: windV, imp: imp8V, domain: [-32, 407], ticks: vTicks, minorStep: 16, minorFrom: -16,
    zero: true, impName: 'IMP8', legendBottom: true, titleX: 22 },
  { tag: '(b)', wind: windTheta, imp: imp8Theta, domain: [-18.2, 191.9], ticks: thetaTicks, minorStep: 8, minorFrom: -16,
    zero: true, impName: 'IMP 8', titleX: 24 },
  { tag: '(c)', wind: windBx, imp: imp8Bx, domain: [-0.994, 0.99], ticks: bxTicks, minorStep: 0.08, minorFrom: -0.96,
    zero: true, impName: 'IMP 8', fmt: fmtOneDecimal, titleX: 25 },
  { tag: '(d)', wind: windB, imp: imp8B, domain: [-1.26, 36.39], ticks: bTicks, minorStep: 1.6, minorFrom: 0,
    zero: true, impName: 'IMP 8', titleX: 32 },
  { tag: '(e)', wind: windN, imp: imp8N, domain: [-5.0, 65.9], ticks: nTicks, minorStep: 4, minorFrom: -4,
    zero: true, impName: 'IMP 8', titleX: 29 },
  { tag: '(f)', wind: windT, imp: imp8T, domain: [0.507, 10840], ticks: tTicks, log: true,
    zero: false, impName: 'IMP 8', titleX: 24 }
];

const xMinor = d3.range(13, 21.001, 1 / 6);

panels.forEach((p, i) => {
  const top = panelTop0 + i * panelH;
  const bottom = top + panelH;
  const y = (p.log ? d3.scaleLog() : d3.scaleLinear()).domain(p.domain).range([bottom, top]);
  const g = svg.append('g');

  const clipId = 'clip' + i;
  svg.append('clipPath').attr('id', clipId)
    .append('rect').attr('x', plotLeft).attr('y', top).attr('width', plotRight - plotLeft).attr('height', panelH);

  // zero reference line
  if (p.zero) {
    g.append('line').attr('x1', plotLeft).attr('x2', plotRight)
      .attr('y1', y(0)).attr('y2', y(0)).attr('stroke', '#333').attr('stroke-width', 1.1);
  }

  // series
  const line = d3.line().defined(d => d !== null).x(d => x(d[0])).y(d => y(d[1]));
  const dataG = g.append('g').attr('clip-path', `url(#${clipId})`);
  dataG.append('path').datum(p.wind).attr('d', line)
    .attr('fill', 'none').attr('stroke', RED).attr('stroke-width', 1.35).attr('stroke-linejoin', 'round');
  dataG.append('path').datum(p.imp).attr('d', line)
    .attr('fill', 'none').attr('stroke', BLACK).attr('stroke-width', 1.35).attr('stroke-linejoin', 'round');

  // time ticks, top and bottom, pointing inward
  const tickG = g.append('g').attr('stroke', '#111').attr('stroke-width', 1.6);
  xMinor.forEach(t => {
    const isMajor = Math.abs(t - Math.round(t)) < 1e-6;
    const len = isMajor ? 8 : 5;
    const xx = x(t);
    tickG.append('line').attr('x1', xx).attr('x2', xx).attr('y1', top).attr('y2', top + len);
    tickG.append('line').attr('x1', xx).attr('x2', xx).attr('y1', bottom).attr('y2', bottom - len);
  });

  // value ticks on both sides
  let majorVals, minorVals;
  if (p.log) {
    majorVals = [1, 10, 100, 1000, 10000];
    minorVals = [];
    [0.1, 1, 10, 100, 1000].forEach(dec => {
      for (let m = 2; m <= 9; m++) {
        const v = m * dec;
        if (v > p.domain[0] && v < p.domain[1]) minorVals.push(v);
      }
    });
  } else {
    majorVals = p.ticks.slice();
    if (p.tag === '(d)') majorVals.push(0);
    minorVals = d3.range(p.minorFrom, p.domain[1], p.minorStep)
      .filter(v => !majorVals.some(m => Math.abs(m - v) < 1e-6));
  }
  const drawYTick = (v, len) => {
    const yy = y(v);
    if (yy < top + 0.5 || yy > bottom - 0.5) return;
    tickG.append('line').attr('x1', plotLeft).attr('x2', plotLeft + len).attr('y1', yy).attr('y2', yy);
    tickG.append('line').attr('x1', plotRight).attr('x2', plotRight - len).attr('y1', yy).attr('y2', yy);
  };
  majorVals.forEach(v => drawYTick(v, 10));
  minorVals.forEach(v => drawYTick(v, 5.5));

  // value tick labels
  if (p.log) {
    p.ticks.forEach(v => {
      const t = addText(g, 89, y(v), { anchor: 'end', size: 17, sx: 1.2, dy: '0.35em' });
      t.append('tspan').text('10');
      t.append('tspan').attr('dx', 5).attr('dy', -8).attr('font-size', 13).text(String(Math.round(Math.log10(v))));
    });
  } else {
    const fmt = p.fmt || (v => String(v));
    p.ticks.forEach(v => {
      addText(g, 88, y(v), { anchor: 'end', size: 16.5, sx: 1.3, dy: '0.36em' }).text(fmt(v));
    });
  }

  // frame
  g.append('rect').attr('x', plotLeft).attr('y', top)
    .attr('width', plotRight - plotLeft).attr('height', panelH)
    .attr('fill', 'none').attr('stroke', '#111').attr('stroke-width', 2.6);

  // panel tag
  addText(g, x(17), top + 24, { size: 17.5, sx: 1.22 }).text(p.tag);

  // legend
  const boxW = p.impName === 'IMP8' ? 132.4 : 138.7;
  const boxH = 49;
  const boxY = p.legendBottom ? bottom - 22.4 - boxH : top + 10.8;
  const lg = g.append('g');
  lg.append('rect').attr('x', 113.3).attr('y', boxY).attr('width', boxW).attr('height', boxH)
    .attr('fill', '#fff').attr('stroke', '#111').attr('stroke-width', 1.5);
  lg.append('line').attr('x1', 123).attr('x2', 175).attr('y1', boxY + 15).attr('y2', boxY + 15)
    .attr('stroke', RED).attr('stroke-width', 1.4);
  lg.append('line').attr('x1', 123).attr('x2', 175).attr('y1', boxY + 34).attr('y2', boxY + 34)
    .attr('stroke', BLACK).attr('stroke-width', 1.4);
  addText(lg, 186.5, boxY + 22, { anchor: 'start', size: 20, sx: 1.08 }).text('Wind');
  addText(lg, 186.5, boxY + 41.5, { anchor: 'start', size: 20, sx: 1.08 }).text(p.impName);

  // y-axis title
  const cy = (top + bottom) / 2;
  const title = addText(g, p.titleX, cy, { rotate: -90, size: 21, sx: 1.06, dy: '0.36em' });
  if (i === 0) title.text('V (km/s)');
  if (i === 1) {
    title.append('tspan').attr('font-weight', 'bold').text('\u0398');
    title.append('tspan').attr('font-weight', 'bold').attr('font-style', 'italic')
      .attr('font-size', 12).attr('dy', 5).attr('dx', 1).text('mag');
    title.append('tspan').attr('dy', -5).attr('dx', 6).text('(deg)');
  }
  if (i === 2) title.text('Bx/B');
  if (i === 3) title.text('B (nT)');
  if (i === 4) {
    title.append('tspan').text('N (cm');
    title.append('tspan').attr('font-size', 12).attr('dy', -9).text('-3');
    title.append('tspan').attr('dy', 9).text(')');
  }
  if (i === 5) title.text('T (eV)');
});

// event markers through all panels
const figTop = panelTop0, figBottom = panelTop0 + 6 * panelH;
eventTimes.forEach(t => {
  svg.append('line').attr('x1', x(t)).attr('x2', x(t)).attr('y1', figTop).attr('y2', figBottom)
    .attr('stroke', '#222').attr('stroke-width', 1.6).attr('stroke-dasharray', '8,4.5');
});

// time axis labels
hourTicks.forEach(h => {
  addText(svg, x(h), 1530, { size: 18.5, sx: 1.15 }).text(String(h));
});
addText(svg, x(17), 1561, { size: 20, sx: 1.1 }).text('Time (UT)');
</script>
</body>
</html>
